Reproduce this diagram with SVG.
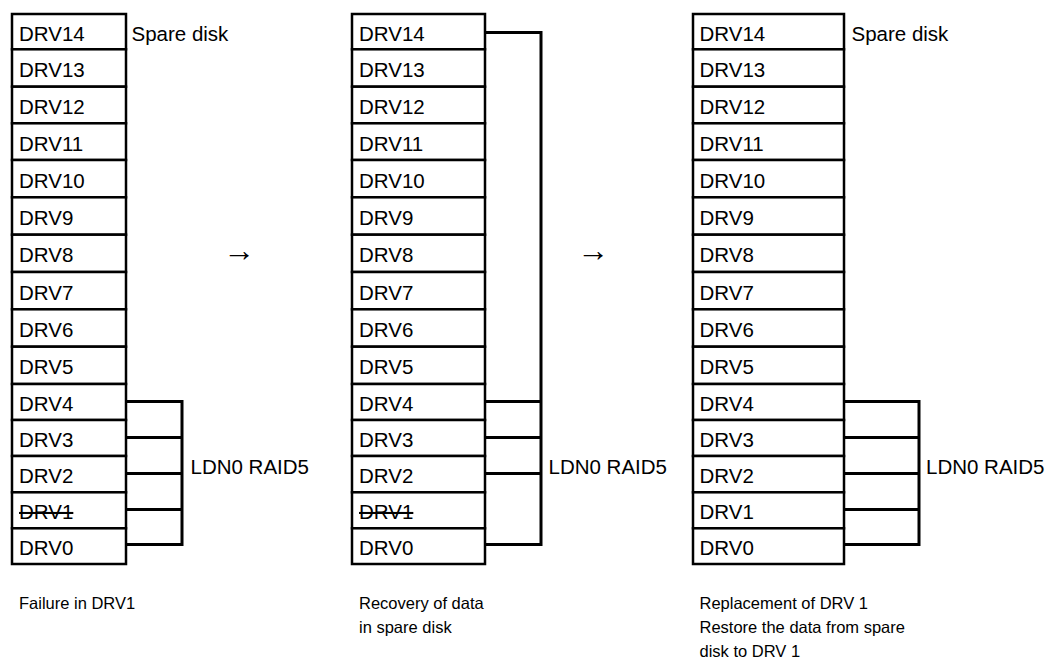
<svg xmlns="http://www.w3.org/2000/svg" width="1053" height="668" viewBox="0 0 1053 668">
<style>
text{font-family:"Liberation Sans",Arial,sans-serif;font-size:20.5px;fill:#000}
.box{fill:#fff;stroke:#000;stroke-width:2.5}
.con{fill:none;stroke:#000;stroke-width:3}
.strike{text-decoration:line-through}
.cap{font-size:16.5px}
.arr{font-size:32px}
</style>
<rect width="1053" height="668" fill="#fff"/>
<g id="column1">
<g id="c1-drv14"><rect class="box" x="12" y="14" width="114" height="35.3"/><text x="19" y="40.7">DRV14</text></g>
<g id="c1-drv13"><rect class="box" x="12" y="49.3" width="114" height="37.4"/><text x="19" y="77">DRV13</text></g>
<g id="c1-drv12"><rect class="box" x="12" y="86.7" width="114" height="36.6"/><text x="19" y="114">DRV12</text></g>
<g id="c1-drv11"><rect class="box" x="12" y="123.3" width="114" height="36.7"/><text x="19" y="150.7">DRV11</text></g>
<g id="c1-drv10"><rect class="box" x="12" y="160" width="114" height="37.3"/><text x="19" y="187.7">DRV10</text></g>
<g id="c1-drv9"><rect class="box" x="12" y="197.3" width="114" height="37.4"/><text x="19" y="225">DRV9</text></g>
<g id="c1-drv8"><rect class="box" x="12" y="234.7" width="114" height="37.3"/><text x="19" y="262.3">DRV8</text></g>
<g id="c1-drv7"><rect class="box" x="12" y="272" width="114" height="37.3"/><text x="19" y="299.7">DRV7</text></g>
<g id="c1-drv6"><rect class="box" x="12" y="309.3" width="114" height="37.4"/><text x="19" y="337">DRV6</text></g>
<g id="c1-drv5"><rect class="box" x="12" y="346.7" width="114" height="37.3"/><text x="19" y="374.3">DRV5</text></g>
<g id="c1-drv4"><rect class="box" x="12" y="384" width="114" height="36"/><text x="19" y="411">DRV4</text></g>
<g id="c1-drv3"><rect class="box" x="12" y="420" width="114" height="36"/><text x="19" y="447">DRV3</text></g>
<g id="c1-drv2"><rect class="box" x="12" y="456" width="114" height="36.3"/><text x="19" y="483.2">DRV2</text></g>
<g id="c1-drv1"><rect class="box" x="12" y="492.3" width="114" height="36"/><text class="strike" x="19" y="519.3">DRV1</text></g>
<g id="c1-drv0"><rect class="box" x="12" y="528.3" width="114" height="35.7"/><text x="19" y="555.2">DRV0</text></g>
</g>
<g id="column2">
<g id="c2-drv14"><rect class="box" x="352" y="14" width="133" height="35.3"/><text x="359" y="40.7">DRV14</text></g>
<g id="c2-drv13"><rect class="box" x="352" y="49.3" width="133" height="37.4"/><text x="359" y="77">DRV13</text></g>
<g id="c2-drv12"><rect class="box" x="352" y="86.7" width="133" height="36.6"/><text x="359" y="114">DRV12</text></g>
<g id="c2-drv11"><rect class="box" x="352" y="123.3" width="133" height="36.7"/><text x="359" y="150.7">DRV11</text></g>
<g id="c2-drv10"><rect class="box" x="352" y="160" width="133" height="37.3"/><text x="359" y="187.7">DRV10</text></g>
<g id="c2-drv9"><rect class="box" x="352" y="197.3" width="133" height="37.4"/><text x="359" y="225">DRV9</text></g>
<g id="c2-drv8"><rect class="box" x="352" y="234.7" width="133" height="37.3"/><text x="359" y="262.3">DRV8</text></g>
<g id="c2-drv7"><rect class="box" x="352" y="272" width="133" height="37.3"/><text x="359" y="299.7">DRV7</text></g>
<g id="c2-drv6"><rect class="box" x="352" y="309.3" width="133" height="37.4"/><text x="359" y="337">DRV6</text></g>
<g id="c2-drv5"><rect class="box" x="352" y="346.7" width="133" height="37.3"/><text x="359" y="374.3">DRV5</text></g>
<g id="c2-drv4"><rect class="box" x="352" y="384" width="133" height="36"/><text x="359" y="411">DRV4</text></g>
<g id="c2-drv3"><rect class="box" x="352" y="420" width="133" height="36"/><text x="359" y="447">DRV3</text></g>
<g id="c2-drv2"><rect class="box" x="352" y="456" width="133" height="36.3"/><text x="359" y="483.2">DRV2</text></g>
<g id="c2-drv1"><rect class="box" x="352" y="492.3" width="133" height="36"/><text class="strike" x="359" y="519.3">DRV1</text></g>
<g id="c2-drv0"><rect class="box" x="352" y="528.3" width="133" height="35.7"/><text x="359" y="555.2">DRV0</text></g>
</g>
<g id="column3">
<g id="c3-drv14"><rect class="box" x="693" y="14" width="151" height="35.3"/><text x="699.5" y="40.7">DRV14</text></g>
<g id="c3-drv13"><rect class="box" x="693" y="49.3" width="151" height="37.4"/><text x="699.5" y="77">DRV13</text></g>
<g id="c3-drv12"><rect class="box" x="693" y="86.7" width="151" height="36.6"/><text x="699.5" y="114">DRV12</text></g>
<g id="c3-drv11"><rect class="box" x="693" y="123.3" width="151" height="36.7"/><text x="699.5" y="150.7">DRV11</text></g>
<g id="c3-drv10"><rect class="box" x="693" y="160" width="151" height="37.3"/><text x="699.5" y="187.7">DRV10</text></g>
<g id="c3-drv9"><rect class="box" x="693" y="197.3" width="151" height="37.4"/><text x="699.5" y="225">DRV9</text></g>
<g id="c3-drv8"><rect class="box" x="693" y="234.7" width="151" height="37.3"/><text x="699.5" y="262.3">DRV8</text></g>
<g id="c3-drv7"><rect class="box" x="693" y="272" width="151" height="37.3"/><text x="699.5" y="299.7">DRV7</text></g>
<g id="c3-drv6"><rect class="box" x="693" y="309.3" width="151" height="37.4"/><text x="699.5" y="337">DRV6</text></g>
<g id="c3-drv5"><rect class="box" x="693" y="346.7" width="151" height="37.3"/><text x="699.5" y="374.3">DRV5</text></g>
<g id="c3-drv4"><rect class="box" x="693" y="384" width="151" height="36"/><text x="699.5" y="411">DRV4</text></g>
<g id="c3-drv3"><rect class="box" x="693" y="420" width="151" height="36"/><text x="699.5" y="447">DRV3</text></g>
<g id="c3-drv2"><rect class="box" x="693" y="456" width="151" height="36.3"/><text x="699.5" y="483.2">DRV2</text></g>
<g id="c3-drv1"><rect class="box" x="693" y="492.3" width="151" height="36"/><text x="699.5" y="519.3">DRV1</text></g>
<g id="c3-drv0"><rect class="box" x="693" y="528.3" width="151" height="35.7"/><text x="699.5" y="555.2">DRV0</text></g>
</g>
<g id="connectors">
<path class="con" d="M126 401.5H182M126 437.5H182M126 473.5H182M126 509.5H182M126 544.5H182M182 400V546"/>
<path class="con" d="M485 32.5H541M485 401.5H541M485 437.5H541M485 473.5H541M485 544.5H541M541 31V546"/>
<path class="con" d="M844 401.5H919M844 437.5H919M844 473.5H919M844 509.5H919M844 544.5H919M919 400V546"/>
</g>
<g id="labels">
<text x="131.5" y="40.7">Spare disk</text>
<text x="851.5" y="40.7">Spare disk</text>
<text x="190.5" y="473.5">LDN0 RAID5</text>
<text x="548.5" y="473.5">LDN0 RAID5</text>
<text x="926" y="473.5">LDN0 RAID5</text>
<text class="arr" x="239" y="261" text-anchor="middle">→</text>
<text class="arr" x="593" y="261" text-anchor="middle">→</text>
</g>
<g id="captions">
<text class="cap" x="19" y="609">Failure in DRV1</text>
<text class="cap" x="359" y="609">Recovery of data</text>
<text class="cap" x="359" y="633">in spare disk</text>
<text class="cap" x="699.5" y="609">Replacement of DRV 1</text>
<text class="cap" x="699.5" y="633">Restore the data from spare</text>
<text class="cap" x="699.5" y="657">disk to DRV 1</text>
</g>
</svg>
